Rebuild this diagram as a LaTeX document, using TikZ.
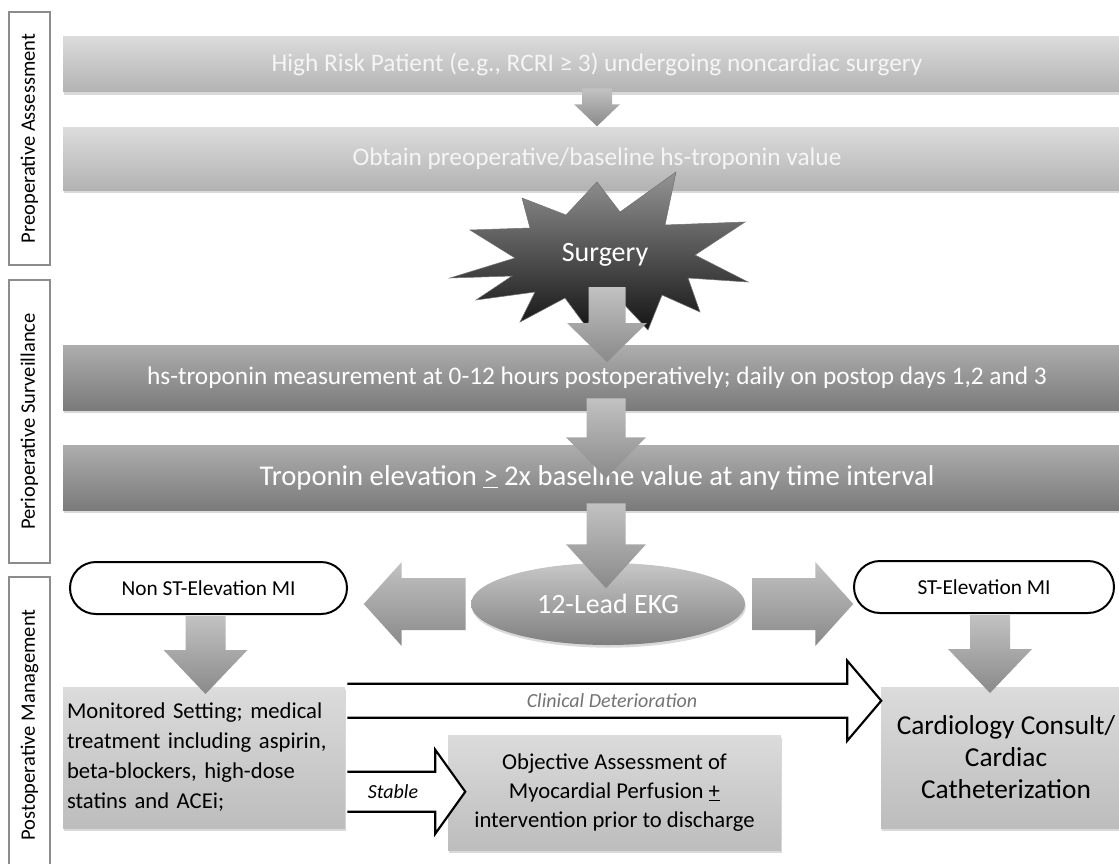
\documentclass[tikz,border=0pt]{standalone}
\usepackage{fontspec}
\setmainfont{Carlito}
\usetikzlibrary{shapes.geometric,shapes.misc,shadows,calc}

\newlength{\pxu}\setlength{\pxu}{0.75pt}

% block arrow: style, tail point, direction, shaft length, head length, shaft half, head half
\newcommand{\blkarrow}[7]{%
  \path[#1, shift={(#2)}, rotate=#3] (0,-#6) -- (#4,-#6) -- (#4,-#7) -- (#4+#5,0) -- (#4,#7) -- (#4,#6) -- (0,#6);}

\begin{document}
\frenchspacing
\begin{tikzpicture}[x=0.75pt, y=-0.75pt,
    sidebox/.style={draw=black!45, line width=1.4pt, rotate=90, minimum height=41*\pxu, inner sep=0pt, font=\fontsize{15.4pt}{18pt}\selectfont},
    shad/.style={drop shadow={shadow xshift=0.6pt, shadow yshift=-2pt, opacity=0.3}},
    lightbar/.style={shad, minimum width=1068*\pxu, inner sep=0pt, top color=black!14, bottom color=black!30, text=white!96!black},
    darkbar/.style={shad, minimum width=1068*\pxu, inner sep=0pt, top color=black!32, bottom color=black!52, text=white},
    pill/.style={rounded rectangle, draw=black, line width=1.5pt, fill=white, inner sep=0pt, font=\fontsize{16pt}{18pt}\selectfont},
    lowbox/.style={shad, inner sep=0pt, top color=black!14, bottom color=black!26},
    fatarr/.style={top color=black!24, bottom color=black!46},
    hollowarr/.style={draw=black, line width=1.6pt, fill=white},
    surgstar/.style={top color=black!42, bottom color=black!92, draw=black!55, line width=0.4pt}
]
\useasboundingbox (0,0) rectangle (1119,863);

% phase labels
\node[sidebox, minimum width=253*\pxu] (preop) at (29.5,138.5) {Preoperative Assessment};
\node[sidebox, minimum width=283*\pxu] (periop) at (29.5,421.5) {Perioperative Surveillance};
\node[sidebox, minimum width=296*\pxu] (postop) at (29.5,725) {Postoperative Management};

% main bars
\node[lightbar, minimum height=55*\pxu, font=\fontsize{19pt}{22pt}\selectfont] (high) at (597,64.5) {High Risk Patient (e.g., RCRI ≥ 3) undergoing noncardiac surgery};
\node[lightbar, minimum height=62*\pxu, font=\fontsize{19pt}{22pt}\selectfont] (base) at (597,159) {Obtain preoperative/baseline hs-troponin value};
\node[darkbar, minimum height=65*\pxu, font=\fontsize{19pt}{22pt}\selectfont] (meas) at (597,377.5) {hs-troponin measurement at 0-12 hours postoperatively; daily on postop days 1,2 and 3};
\node[darkbar, minimum height=65*\pxu, font=\fontsize{21.5pt}{24pt}\selectfont] (elev) at (597,477.5) {Troponin elevation \underline{>} 2x baseline value at any time interval};

% surgery burst
\path[surgstar] (450,278) -- (515,258) -- (470,230) -- (530,228) -- (522,198) -- (566,215) -- (597,182) -- (620,212) -- (676,172) -- (665,225) -- (745,222) -- (695,255) -- (748,282) -- (688,278) -- (700,312) -- (662,295) -- (648,330) -- (620,300) -- (585,325) -- (565,298) -- (520,322) -- (535,292) -- (476,300) -- (512,276) -- cycle;
\node[text=white, font=\fontsize{21pt}{24pt}\selectfont] (surg) at (605,255) {Surgery};

% management
\node[ellipse, shad, minimum width=274*\pxu, minimum height=82*\pxu, inner sep=0pt, top color=black!22, bottom color=black!50, text=white, font=\fontsize{21pt}{24pt}\selectfont] (ekg) at (608,604) {12-Lead EKG};
\node[pill, minimum width=277*\pxu, minimum height=52*\pxu] (nstemi) at (208.5,588) {Non ST-Elevation MI};
\node[pill, minimum width=260*\pxu, minimum height=52*\pxu] (stemi) at (984,587) {ST-Elevation MI};
\node[lowbox, minimum width=282*\pxu, minimum height=141*\pxu, text width=274*\pxu, align=left, font=\fontsize{17pt}{22.5pt}\selectfont] (mon) at (204,757.5) {Monitored Setting; medical\\treatment including aspirin,\\beta-blockers, high-dose\\statins and ACEi;};
\node[lowbox, minimum width=333*\pxu, minimum height=115*\pxu, align=center, font=\fontsize{17pt}{21.5pt}\selectfont] (obj) at (614.5,792.5) {Objective Assessment of\\Myocardial Perfusion \underline{+}\\intervention prior to discharge};
\node[lowbox, minimum width=250*\pxu, minimum height=141*\pxu, align=center, font=\fontsize{20.5pt}{24pt}\selectfont] (cath) at (1006,757.5) {Cardiology Consult/\\Cardiac\\Catheterization};

% block arrows
\blkarrow{fatarr}{$(high.south)+(0,-4)$}{-90}{16}{22}{15}{23}
\blkarrow{fatarr}{$(surg)+(2,32)$}{-90}{36}{39}{18.5}{40}
\blkarrow{fatarr}{$(meas.south)+(9,-12)$}{-90}{39}{41}{19.5}{40}
\blkarrow{fatarr}{$(elev.south)+(9,-7)$}{-90}{41}{44}{19.5}{40}
\blkarrow{fatarr}{$(ekg.west)+(-5,0)$}{180}{64}{38}{26}{42}
\blkarrow{fatarr}{$(ekg.east)+(7,0)$}{0}{63}{38}{26}{42}
\blkarrow{fatarr}{$(nstemi.south)+(-3,1)$}{-90}{34}{44}{20}{42}
\blkarrow{fatarr}{$(stemi.south)+(6,1)$}{-90}{34}{44}{20}{42}
\blkarrow{hollowarr}{$(mon.north east)+(2,14)$}{0}{500}{34}{17}{40}
\blkarrow{hollowarr}{$(mon.north east)+(2,105)$}{0}{88}{30}{20}{42}

\node[text=black!55, font=\itshape\fontsize{15pt}{17pt}\selectfont] (cdlab) at (612,701) {Clinical Deterioration};
\node[font=\itshape\fontsize{15pt}{17pt}\selectfont] (stablab) at (393,792) {Stable};
\end{tikzpicture}
\end{document}
